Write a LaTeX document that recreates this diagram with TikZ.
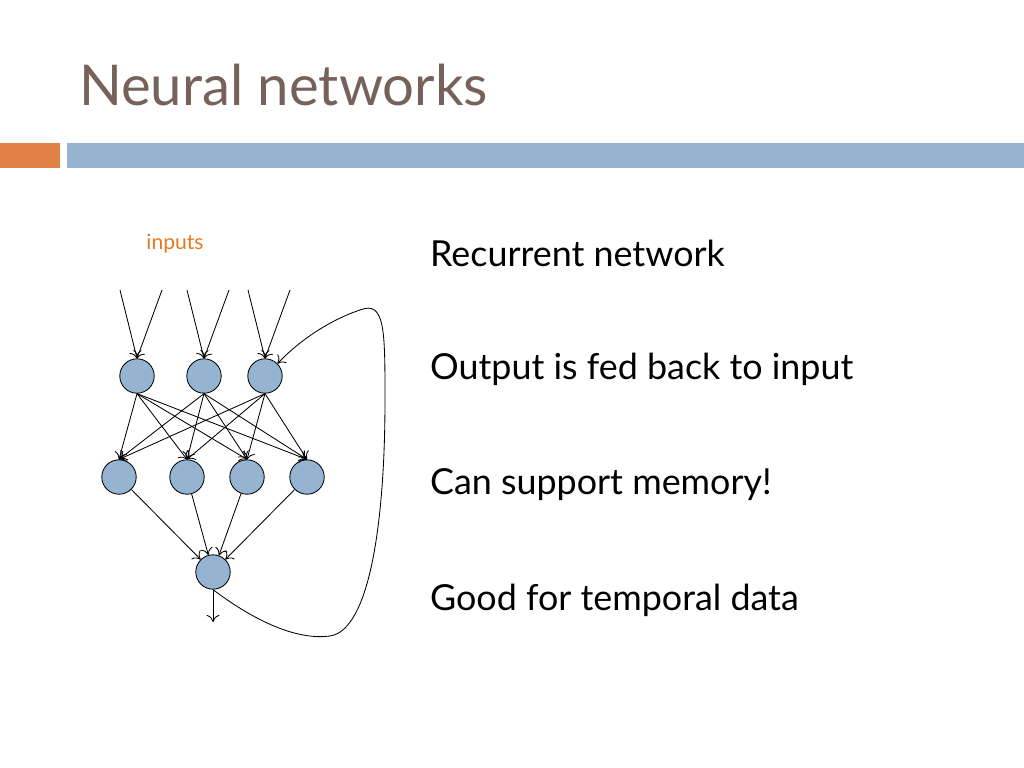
\documentclass[tikz,border=0pt]{standalone}
\usepackage{fontspec}
\setmainfont{Lato}
\usetikzlibrary{positioning, arrows.meta}
\definecolor{titlebrown}{RGB}{118,98,88}
\definecolor{barorange}{RGB}{224,130,70}
\definecolor{barblue}{RGB}{148,180,210}
\definecolor{nodeblue}{RGB}{148,180,210}
\definecolor{inorange}{RGB}{230,120,30}
\begin{document}
\begin{tikzpicture}[
x=0.025cm, y=-0.025cm,
neuron/.style={circle,
  draw=black,
  fill=nodeblue,
  minimum size=0.86cm,
  inner sep=0pt,
},
bullet/.style={anchor=west,
  font=\fontsize{25.5}{30}\selectfont,
},
line width=0.6pt,
>={To[length=5pt,width=9pt]}
]
\useasboundingbox (0,0) rectangle (1024,768);

\node[anchor=west, text=titlebrown, font=\fontsize{40}{46}\selectfont] (title) at (74,85)
    {Neural networks};
\fill[barorange] (0,143) rectangle (60,168);
\fill[barblue] (67,143) rectangle (1024,168);

\node[text=inorange, font=\fontsize{15}{18}\selectfont] (inputs) at (175,244)
    {inputs};

% hidden layers
\node[neuron] (a1) at (137,376) {};
\node[neuron] (a2) at (204,376) {};
\node[neuron] (a3) at (265,376) {};
\node[neuron] (b1) at (119,477) {};
\node[neuron] (b2) at (187,477) {};
\node[neuron] (b3) at (247,477) {};
\node[neuron] (b4) at (307,477) {};
\node[neuron] (out) at (213,572) {};

% free ends
\coordinate (i1) at (120,290);
\coordinate (i2) at (162,290);
\coordinate (i3) at (187,290);
\coordinate (i4) at (229,290);
\coordinate (i5) at (248,290);
\coordinate (i6) at (290,290);
\coordinate (o) at (213,622);

\draw[->] (i1) -- (a1.north);
\draw[->] (i2) -- (a1.north);
\draw[->] (i3) -- (a2.north);
\draw[->] (i4) -- (a2.north);
\draw[->] (i5) -- (a3.north);
\draw[->] (i6) -- (a3.north);

\foreach \a in {a1,a2,a3}
  \foreach \b in {b1,b2,b3,b4}
    \draw[->] (\a.south) -- (\b.north);

\foreach \b in {b1,b2,b3,b4}
  \draw[->] (\b) -- (out);

\draw[->] (out.south) -- (o);
\draw[->] (out.south) .. controls (260,625) and (300,640) .. (330,636)
  .. controls (370,630) and (385,520) .. (385,400)
  .. controls (385,330) and (385,300) .. (360,310)
  .. controls (330,320) and (300,340) .. (a3.north east);

\node[bullet] (t1) at (425,253) {Recurrent network};
\node[bullet] (t2) at (425,369) {Output is fed back to input};
\node[bullet] (t3) at (425,485) {Can support memory!};
\node[bullet] (t4) at (425,600) {Good for temporal data};
\end{tikzpicture}
\end{document}
